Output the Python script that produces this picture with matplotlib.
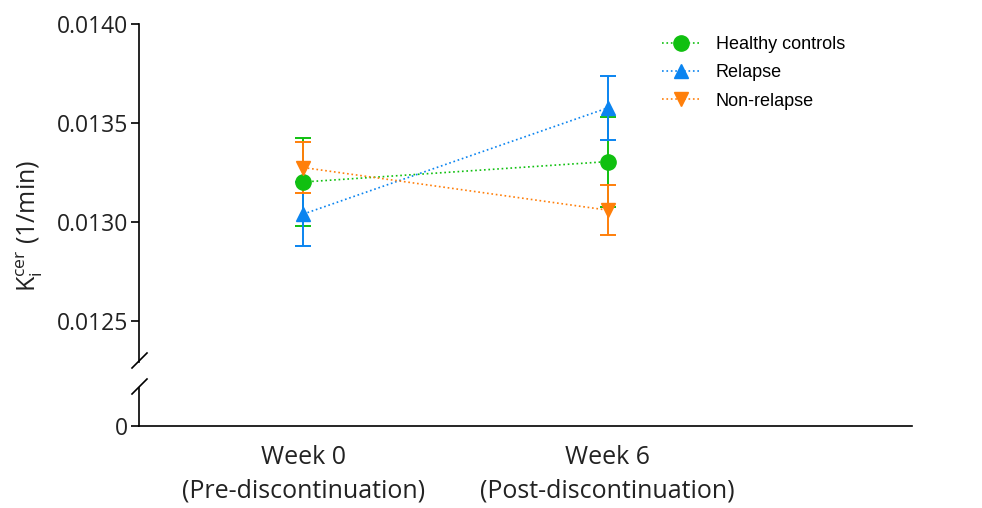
import matplotlib
matplotlib.use("Agg")
import matplotlib.pyplot as plt

# data
weeks = ["Week 0\n(Pre-discontinuation)", "Week 6\n(Post-discontinuation)"]
groups = ["Healthy controls", "Relapse", "Non-relapse"]
means = {
    "Healthy controls": [0.013202, 0.013305],
    "Relapse": [0.013040, 0.013576],
    "Non-relapse": [0.013275, 0.013060],
}
errs = {
    "Healthy controls": [0.000222, 0.000227],
    "Relapse": [0.000160, 0.000162],
    "Non-relapse": [0.000130, 0.000126],
}
yticks_top = [0.0125, 0.0130, 0.0135, 0.0140]

colors = {"Healthy controls": "#10c010", "Relapse": "#0a84f0", "Non-relapse": "#ff7f0a"}
markers = {"Healthy controls": "o", "Relapse": "^", "Non-relapse": "v"}
msizes = {"Healthy controls": 11, "Relapse": 10, "Non-relapse": 10}

tickfont = "Open Sans"
txtcol = "#222222"

fig = plt.figure(figsize=(9.82, 5.08), dpi=100)
ax = fig.add_axes([0.1415, 0.2874, 0.7872, 0.6654])
axb = fig.add_axes([0.1415, 0.1614, 0.7872, 0.0748])

x = list(range(len(weeks)))
handles = []
for g in groups:
    c = ax.errorbar(x, means[g], yerr=errs[g], color=colors[g], marker=markers[g],
                    ms=msizes[g], ls=":", lw=1.2, elinewidth=1.4, capsize=6,
                    capthick=1.4, label=g)
    handles.append(c.lines[0])

ax.set_xlim(-0.54, 2.0)
axb.set_xlim(-0.54, 2.0)
ax.set_ylim(0.012293, 0.0140)
axb.set_ylim(0, 1)

ax.set_yticks(yticks_top)
ax.set_yticklabels(["%.4f" % v for v in yticks_top], fontsize=16.5,
                   family=tickfont, color=txtcol)
axb.set_yticks([0])
axb.set_yticklabels(["0"], fontsize=16.5, family=tickfont, color=txtcol)
ax.set_xticks([])
axb.set_xticks(x)
axb.set_xticklabels(weeks, fontsize=18, family=tickfont, linespacing=1.4,
                    color=txtcol)

for a in (ax, axb):
    for s in ("top", "right"):
        a.spines[s].set_visible(False)
    a.spines["left"].set_linewidth(1.2)
    a.tick_params(axis="y", direction="out", length=6, width=1.2, pad=2)
ax.spines["bottom"].set_visible(False)
axb.spines["bottom"].set_linewidth(1.2)
axb.tick_params(axis="x", length=0, pad=14)

# axis break marks
d = dict(transform=fig.transFigure, color="black", lw=1.2, clip_on=False)
bx = 139 / 982
for yb in (361, 387):
    yf = 1 - yb / 508
    fig.add_artist(plt.Line2D([bx - 7 / 982, bx + 8 / 982],
                              [yf - 7 / 508, yf + 8 / 508], **d))

fig.text(0.030, 0.555, r"K$_\mathregular{i}^\mathregular{cer}$ (1/min)",
         rotation=90, ha="center", va="center", fontsize=18, family=tickfont,
         color=txtcol)

leg = ax.legend(handles, groups, loc="upper left", bbox_to_anchor=(0.655, 1.012),
                frameon=False, prop={"family": "Liberation Sans", "size": 13},
                handlelength=2.2, handletextpad=0.8, labelspacing=0.62)

fig.savefig("out.png", dpi=100)
